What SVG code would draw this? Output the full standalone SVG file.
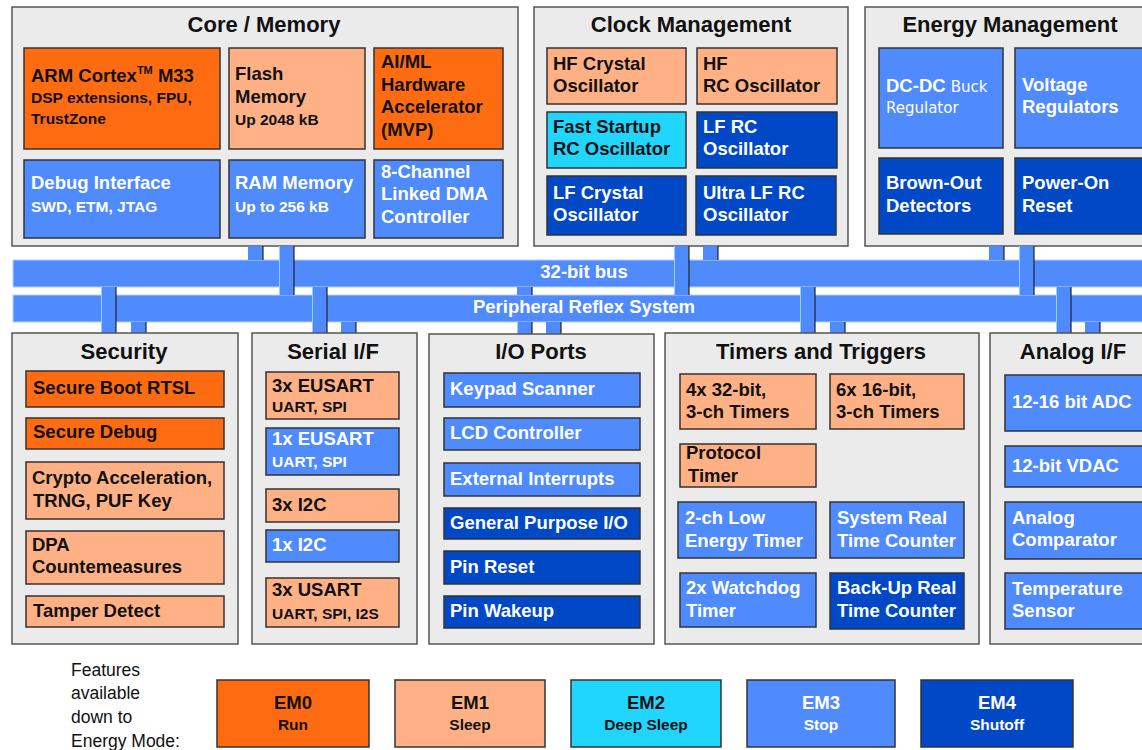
<svg xmlns="http://www.w3.org/2000/svg" width="1142" height="750" viewBox="0 0 1142 750">
<style>
.panel{fill:#ebebeb;stroke:#555;stroke-width:1.5}
.e0{fill:#ff6b10;stroke:#333;stroke-width:1.5}
.e1{fill:#ffb185;stroke:#333;stroke-width:1.5}
.e2{fill:#20d6ff;stroke:#333;stroke-width:1.5}
.e3{fill:#4f8bff;stroke:#333;stroke-width:1.5}
.e4{fill:#0048c6;stroke:#333;stroke-width:1.5}
text{font-family:"Liberation Sans",Arial,sans-serif;font-weight:bold;font-size:18.5px}
.d{fill:#111}
.w{fill:#fff}
.s{font-size:15.5px}
.h{font-size:22px;text-anchor:middle;fill:#111}
.m{text-anchor:middle}
.bus{fill:#4f8bff;stroke:#b8d0ff;stroke-width:1}
.stub{fill:#4f8bff}
.sl{stroke:#8fd3ff;stroke-width:1}
.sr{stroke:#222;stroke-width:1.2}
.reg{font-family:"DejaVu Sans",Verdana,sans-serif;font-weight:normal;font-size:15px}
.leg{font-weight:normal;font-size:17.5px;fill:#111}
</style>

<g id="core-memory">
<rect class="panel" x="12" y="7" width="506" height="239"/>
<text class="h" x="264" y="32">Core / Memory</text>
<g id="arm"><rect class="e0" x="24" y="48" width="196" height="101"/>
<text class="d" x="31" y="82">ARM Cortex<tspan font-size="11" dy="-8">TM</tspan><tspan dy="8"> M33</tspan></text>
<text class="d s" x="31" y="103">DSP extensions, FPU,</text>
<text class="d s" x="31" y="124">TrustZone</text></g>
<g id="flash"><rect class="e1" x="229" y="48" width="136" height="101"/>
<text class="d" x="235" y="80">Flash</text><text class="d" x="235" y="103">Memory</text>
<text class="d s" x="235" y="125">Up 2048 kB</text></g>
<g id="aiml"><rect class="e0" x="374" y="48" width="129" height="101"/>
<text class="d" x="381" y="68">AI/ML</text><text class="d" x="381" y="91">Hardware</text>
<text class="d" x="381" y="113">Accelerator</text><text class="d" x="381" y="136">(MVP)</text></g>
<g id="debug"><rect class="e3" x="24" y="160" width="196" height="78"/>
<text class="w" x="31" y="189">Debug Interface</text><text class="w s" x="31" y="212">SWD, ETM, JTAG</text></g>
<g id="ram"><rect class="e3" x="229" y="160" width="136" height="78"/>
<text class="w" x="235" y="189">RAM Memory</text><text class="w s" x="235" y="212">Up to 256 kB</text></g>
<g id="dma"><rect class="e3" x="374" y="160" width="129" height="78"/>
<text class="w" x="381" y="178">8-Channel</text><text class="w" x="381" y="200">Linked DMA</text><text class="w" x="381" y="223">Controller</text></g>
</g>

<g id="clock-management">
<rect class="panel" x="534" y="7" width="314" height="239"/>
<text class="h" x="691" y="32">Clock Management</text>
<g id="hfxo"><rect class="e1" x="547" y="48" width="139" height="56"/>
<text class="d" x="553" y="70">HF Crystal</text><text class="d" x="553" y="92">Oscillator</text></g>
<g id="hfrco"><rect class="e1" x="697" y="48" width="140" height="56"/>
<text class="d" x="703" y="70">HF</text><text class="d" x="703" y="92">RC Oscillator</text></g>
<g id="fsrco"><rect class="e2" x="547" y="112" width="139" height="56"/>
<text class="d" x="553" y="133">Fast Startup</text><text class="d" x="553" y="155">RC Oscillator</text></g>
<g id="lfrco"><rect class="e4" x="697" y="112" width="140" height="56"/>
<text class="w" x="703" y="133">LF RC</text><text class="w" x="703" y="155">Oscillator</text></g>
<g id="lfxo"><rect class="e4" x="547" y="176" width="139" height="59"/>
<text class="w" x="553" y="199">LF Crystal</text><text class="w" x="553" y="221">Oscillator</text></g>
<g id="ulfrco"><rect class="e4" x="696" y="176" width="140" height="59"/>
<text class="w" x="703" y="199">Ultra LF RC</text><text class="w" x="703" y="221">Oscillator</text></g>
</g>

<g id="energy-management">
<rect class="panel" x="865" y="7" width="300" height="239"/>
<text class="h" x="1010" y="32">Energy Management</text>
<g id="dcdc"><rect class="e3" x="879" y="48" width="124" height="100"/>
<text class="w" x="886" y="92">DC-DC <tspan class="reg">Buck</tspan></text>
<text class="w reg" x="886" y="113">Regulator</text></g>
<g id="vreg"><rect class="e3" x="1015" y="48" width="140" height="100"/>
<text class="w" x="1022" y="91">Voltage</text><text class="w" x="1022" y="113">Regulators</text></g>
<g id="bod"><rect class="e4" x="879" y="158" width="124" height="76"/>
<text class="w" x="886" y="189">Brown-Out</text><text class="w" x="886" y="212">Detectors</text></g>
<g id="por"><rect class="e4" x="1015" y="158" width="140" height="76"/>
<text class="w" x="1022" y="189">Power-On</text><text class="w" x="1022" y="212">Reset</text></g>
</g>

<g id="buses">
<rect class="bus" x="13" y="260" width="1140" height="27"/>
<rect class="bus" x="13" y="295" width="1140" height="27"/>
</g>

<g id="connectors">
<g><rect class="stub" x="248" y="246" width="15" height="14"/><line class="sr" x1="263" y1="246" x2="263" y2="260"/></g>
<g><rect class="stub" x="279" y="246" width="15" height="49"/><line class="sl" x1="279.5" y1="246" x2="279.5" y2="295"/><line class="sr" x1="294" y1="246" x2="294" y2="295"/></g>
<g><rect class="stub" x="674" y="246" width="15" height="49"/><line class="sl" x1="674.5" y1="246" x2="674.5" y2="295"/><line class="sr" x1="689" y1="246" x2="689" y2="295"/></g>
<g><rect class="stub" x="703" y="246" width="15" height="14"/><line class="sr" x1="718" y1="246" x2="718" y2="260"/></g>
<g><rect class="stub" x="989" y="246" width="15" height="14"/><line class="sr" x1="1004" y1="246" x2="1004" y2="260"/></g>
<g><rect class="stub" x="1019" y="246" width="15" height="49"/><line class="sl" x1="1019.5" y1="246" x2="1019.5" y2="295"/><line class="sr" x1="1034" y1="246" x2="1034" y2="295"/></g>
<g><rect class="stub" x="101" y="287" width="15" height="46"/><line class="sl" x1="101.5" y1="287" x2="101.5" y2="333"/><line class="sr" x1="116" y1="287" x2="116" y2="333"/></g>
<g><rect class="stub" x="131" y="322" width="15" height="11"/><line class="sr" x1="146" y1="322" x2="146" y2="333"/></g>
<g><rect class="stub" x="312" y="287" width="15" height="46"/><line class="sl" x1="312.5" y1="287" x2="312.5" y2="333"/><line class="sr" x1="327" y1="287" x2="327" y2="333"/></g>
<g><rect class="stub" x="341" y="322" width="15" height="11"/><line class="sr" x1="356" y1="322" x2="356" y2="333"/></g>
<g><rect class="stub" x="517" y="287" width="15" height="8"/><line class="sr" x1="532" y1="287" x2="532" y2="295"/>
<rect class="stub" x="517" y="322" width="15" height="13"/><line class="sl" x1="517.5" y1="322" x2="517.5" y2="335"/><line class="sr" x1="532" y1="322" x2="532" y2="335"/></g>
<g><rect class="stub" x="546" y="322" width="15" height="13"/><line class="sr" x1="561" y1="322" x2="561" y2="335"/></g>
<g><rect class="stub" x="800" y="287" width="15" height="46"/><line class="sl" x1="800.5" y1="287" x2="800.5" y2="333"/><line class="sr" x1="815" y1="287" x2="815" y2="333"/></g>
<g><rect class="stub" x="830" y="322" width="15" height="11"/><line class="sr" x1="845" y1="322" x2="845" y2="333"/></g>
<g><rect class="stub" x="1056" y="287" width="15" height="46"/><line class="sl" x1="1056.5" y1="287" x2="1056.5" y2="333"/><line class="sr" x1="1071" y1="287" x2="1071" y2="333"/></g>
<g><rect class="stub" x="1085" y="322" width="15" height="11"/><line class="sr" x1="1100" y1="322" x2="1100" y2="333"/></g>
</g>

<g id="bus-labels">
<text class="w m" x="584" y="278">32-bit bus</text>
<text class="w m" x="584" y="313">Peripheral Reflex System</text>
</g>

<g id="security">
<rect class="panel" x="12" y="333" width="226" height="311"/>
<text class="h" x="124" y="359">Security</text>
<g id="secboot"><rect class="e0" x="26" y="371" width="198" height="36"/><text class="d" x="33" y="394">Secure Boot RTSL</text></g>
<g id="secdebug"><rect class="e0" x="26" y="418" width="198" height="31"/><text class="d" x="33" y="438">Secure Debug</text></g>
<g id="crypto"><rect class="e1" x="26" y="462" width="198" height="57"/><text class="d" x="32" y="484">Crypto Acceleration,</text><text class="d" x="33" y="507">TRNG, PUF Key</text></g>
<g id="dpa"><rect class="e1" x="26" y="531" width="198" height="53"/><text class="d" x="32" y="551">DPA</text><text class="d" x="32" y="573">Countemeasures</text></g>
<g id="tamper"><rect class="e1" x="26" y="596" width="198" height="31"/><text class="d" x="33" y="617">Tamper Detect</text></g>
</g>

<g id="serial">
<rect class="panel" x="252" y="333" width="165" height="311"/>
<text class="h" x="333" y="359">Serial I/F</text>
<g id="eusart3"><rect class="e1" x="266" y="372" width="133" height="47"/><text class="d" x="272" y="392">3x EUSART</text><text class="d s" x="272" y="412">UART, SPI</text></g>
<g id="eusart1"><rect class="e3" x="266" y="428" width="133" height="47"/><text class="w" x="272" y="445">1x EUSART</text><text class="w s" x="272" y="467">UART, SPI</text></g>
<g id="i2c3"><rect class="e1" x="266" y="489" width="133" height="33"/><text class="d" x="272" y="511">3x I2C</text></g>
<g id="i2c1"><rect class="e3" x="266" y="530" width="133" height="32"/><text class="w" x="272" y="551">1x I2C</text></g>
<g id="usart3"><rect class="e1" x="266" y="578" width="133" height="49"/><text class="d" x="272" y="596">3x USART</text><text class="d s" x="272" y="619">UART, SPI, I2S</text></g>
</g>

<g id="io-ports">
<rect class="panel" x="429" y="334" width="225" height="310"/>
<text class="h" x="541" y="359">I/O Ports</text>
<g id="keypad"><rect class="e3" x="444" y="373" width="196" height="34"/><text class="w" x="450" y="395">Keypad Scanner</text></g>
<g id="lcd"><rect class="e3" x="444" y="418" width="196" height="32"/><text class="w" x="450" y="439">LCD Controller</text></g>
<g id="extint"><rect class="e3" x="444" y="463" width="196" height="33"/><text class="w" x="450" y="485">External Interrupts</text></g>
<g id="gpio"><rect class="e4" x="444" y="508" width="196" height="31"/><text class="w" x="450" y="529">General Purpose I/O</text></g>
<g id="pinreset"><rect class="e4" x="444" y="551" width="196" height="33"/><text class="w" x="450" y="573">Pin Reset</text></g>
<g id="pinwakeup"><rect class="e4" x="444" y="596" width="196" height="32"/><text class="w" x="450" y="617">Pin Wakeup</text></g>
</g>

<g id="timers">
<rect class="panel" x="665" y="333" width="314" height="311"/>
<text class="h" x="821" y="359">Timers and Triggers</text>
<g id="t32"><rect class="e1" x="680" y="374" width="136" height="55"/><text class="d" x="686" y="396">4x 32-bit,</text><text class="d" x="686" y="418">3-ch Timers</text></g>
<g id="t16"><rect class="e1" x="830" y="374" width="134" height="55"/><text class="d" x="836" y="396">6x 16-bit,</text><text class="d" x="836" y="418">3-ch Timers</text></g>
<g id="protimer"><rect class="e1" x="680" y="444" width="136" height="43"/><text class="d" x="686" y="459">Protocol</text><text class="d" x="688" y="482">Timer</text></g>
<g id="letimer"><rect class="e3" x="678" y="502" width="138" height="56"/><text class="w" x="685" y="524">2-ch Low</text><text class="w" x="685" y="547">Energy Timer</text></g>
<g id="sysrtc"><rect class="e3" x="830" y="502" width="134" height="56"/><text class="w" x="837" y="524">System Real</text><text class="w" x="837" y="547">Time Counter</text></g>
<g id="wdog"><rect class="e3" x="680" y="573" width="136" height="54"/><text class="w" x="686" y="594">2x Watchdog</text><text class="w" x="686" y="617">Timer</text></g>
<g id="burtc"><rect class="e4" x="830" y="573" width="134" height="56"/><text class="w" x="837" y="594">Back-Up Real</text><text class="w" x="837" y="617">Time Counter</text></g>
</g>

<g id="analog">
<rect class="panel" x="990" y="333" width="170" height="311"/>
<text class="h" x="1073" y="359">Analog I/F</text>
<g id="adc"><rect class="e3" x="1005" y="375" width="150" height="56"/><text class="w" x="1012" y="408">12-16 bit ADC</text></g>
<g id="vdac"><rect class="e3" x="1005" y="446" width="150" height="41"/><text class="w" x="1012" y="472">12-bit VDAC</text></g>
<g id="acmp"><rect class="e3" x="1005" y="502" width="150" height="57"/><text class="w" x="1012" y="524">Analog</text><text class="w" x="1012" y="546">Comparator</text></g>
<g id="temp"><rect class="e3" x="1005" y="573" width="150" height="56"/><text class="w" x="1012" y="595">Temperature</text><text class="w" x="1012" y="617">Sensor</text></g>
</g>

<g id="legend">
<text class="leg" x="71" y="676">Features</text>
<text class="leg" x="71" y="699">available</text>
<text class="leg" x="71" y="723">down to</text>
<text class="leg" x="71" y="747">Energy Mode:</text>
<g id="em0"><rect class="e0" x="217" y="680" width="152" height="67"/><text class="d m" x="293" y="709" font-size="18">EM0</text><text class="d m s" x="293" y="730">Run</text></g>
<g id="em1"><rect class="e1" x="395" y="680" width="150" height="67"/><text class="d m" x="470" y="709" font-size="18">EM1</text><text class="d m s" x="470" y="730">Sleep</text></g>
<g id="em2"><rect class="e2" x="571" y="680" width="150" height="67"/><text class="d m" x="646" y="709" font-size="18">EM2</text><text class="d m s" x="646" y="730">Deep Sleep</text></g>
<g id="em3"><rect class="e3" x="747" y="680" width="148" height="67"/><text class="w m" x="821" y="709" font-size="18">EM3</text><text class="w m s" x="821" y="730">Stop</text></g>
<g id="em4"><rect class="e4" x="921" y="680" width="152" height="67"/><text class="w m" x="997" y="709" font-size="18">EM4</text><text class="w m s" x="997" y="730">Shutoff</text></g>
</g>
</svg>
